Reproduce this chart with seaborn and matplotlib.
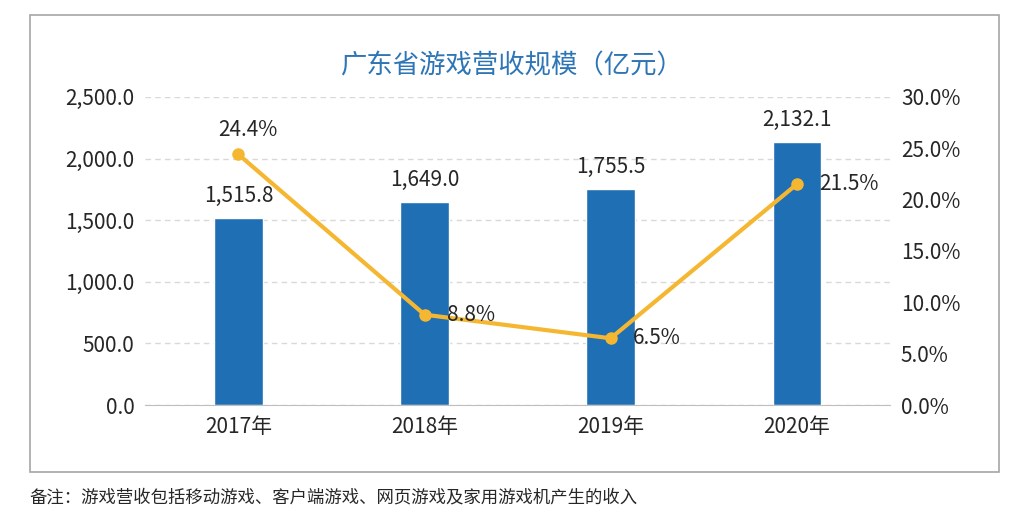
import matplotlib
matplotlib.use("Agg")
import matplotlib.pyplot as plt
import seaborn as sns
import pandas as pd
from matplotlib.patches import Rectangle

years = ["2017年", "2018年", "2019年", "2020年"]
revenue = [1515.8, 1649.0, 1755.5, 2132.1]
growth = [24.4, 8.8, 6.5, 21.5]

sns.set_style("white")
plt.rcParams['font.family'] = ['Noto Sans CJK SC', 'DejaVu Sans']

df = pd.DataFrame({"year": years, "revenue": revenue})

fig = plt.figure(figsize=(10.24, 5.24), dpi=100)
ax = fig.add_axes([0.142, 0.227, 0.727, 0.588])
sns.barplot(data=df, x="year", y="revenue", color="#1F6FB5", width=0.26, saturation=1, ax=ax)
ax.set_xlim(-0.5, 3.5)
ax.set_ylim(0, 2500)
ax.set_yticks(range(0, 2501, 500))
ax.set_yticklabels([f"{v:,.1f}" for v in range(0, 2501, 500)], fontsize=15)
ax.tick_params(axis='x', labelsize=15, length=0, pad=8)
ax.tick_params(axis='y', length=0, pad=8)
ax.set_xlabel("")
ax.set_ylabel("")
ax.yaxis.grid(True, linestyle=(0, (4, 3)), color="#D9D9D9", linewidth=1)
ax.set_axisbelow(True)
for s in ["top", "right", "left"]:
    ax.spines[s].set_visible(False)
ax.spines["bottom"].set_color("#BFBFBF")
for i, v in enumerate(revenue):
    ax.text(i, v + 90, f"{v:,.1f}", ha="center", va="bottom", fontsize=15)

ax2 = ax.twinx()
ax2.plot(range(4), growth, color="#F5B731", linewidth=3, marker="o", markersize=8)
ax2.set_ylim(0, 30)
ax2.set_yticks(range(0, 31, 5))
ax2.set_yticklabels([f"{v:.1f}%" for v in range(0, 31, 5)], fontsize=15)
ax2.tick_params(axis='y', length=0, pad=8)
for s in ["top", "right", "left", "bottom"]:
    ax2.spines[s].set_visible(False)
offsets = [(0.05, 2.4, "center"), (0.12, 0.0, "left"), (0.12, 0.0, "left"), (0.12, 0.0, "left")]
for i, v in enumerate(growth):
    dx, dy, ha = offsets[i]
    ax2.text(i + dx, v + dy, f"{v:.1f}%", ha=ha, va="center", fontsize=15)

fig.text(0.5, 0.875, "广东省游戏营收规模（亿元）", ha="center", va="center",
         fontsize=19, color="#2E75B6")
fig.patches.append(Rectangle((0.029, 0.099), 0.947, 0.872, transform=fig.transFigure,
                             fill=False, edgecolor="#A6A6A6", linewidth=1.2))
fig.text(0.029, 0.05, "备注：游戏营收包括移动游戏、客户端游戏、网页游戏及家用游戏机产生的收入",
         ha="left", va="center", fontsize=12.5, style="italic")
fig.savefig("out.png", dpi=100)
